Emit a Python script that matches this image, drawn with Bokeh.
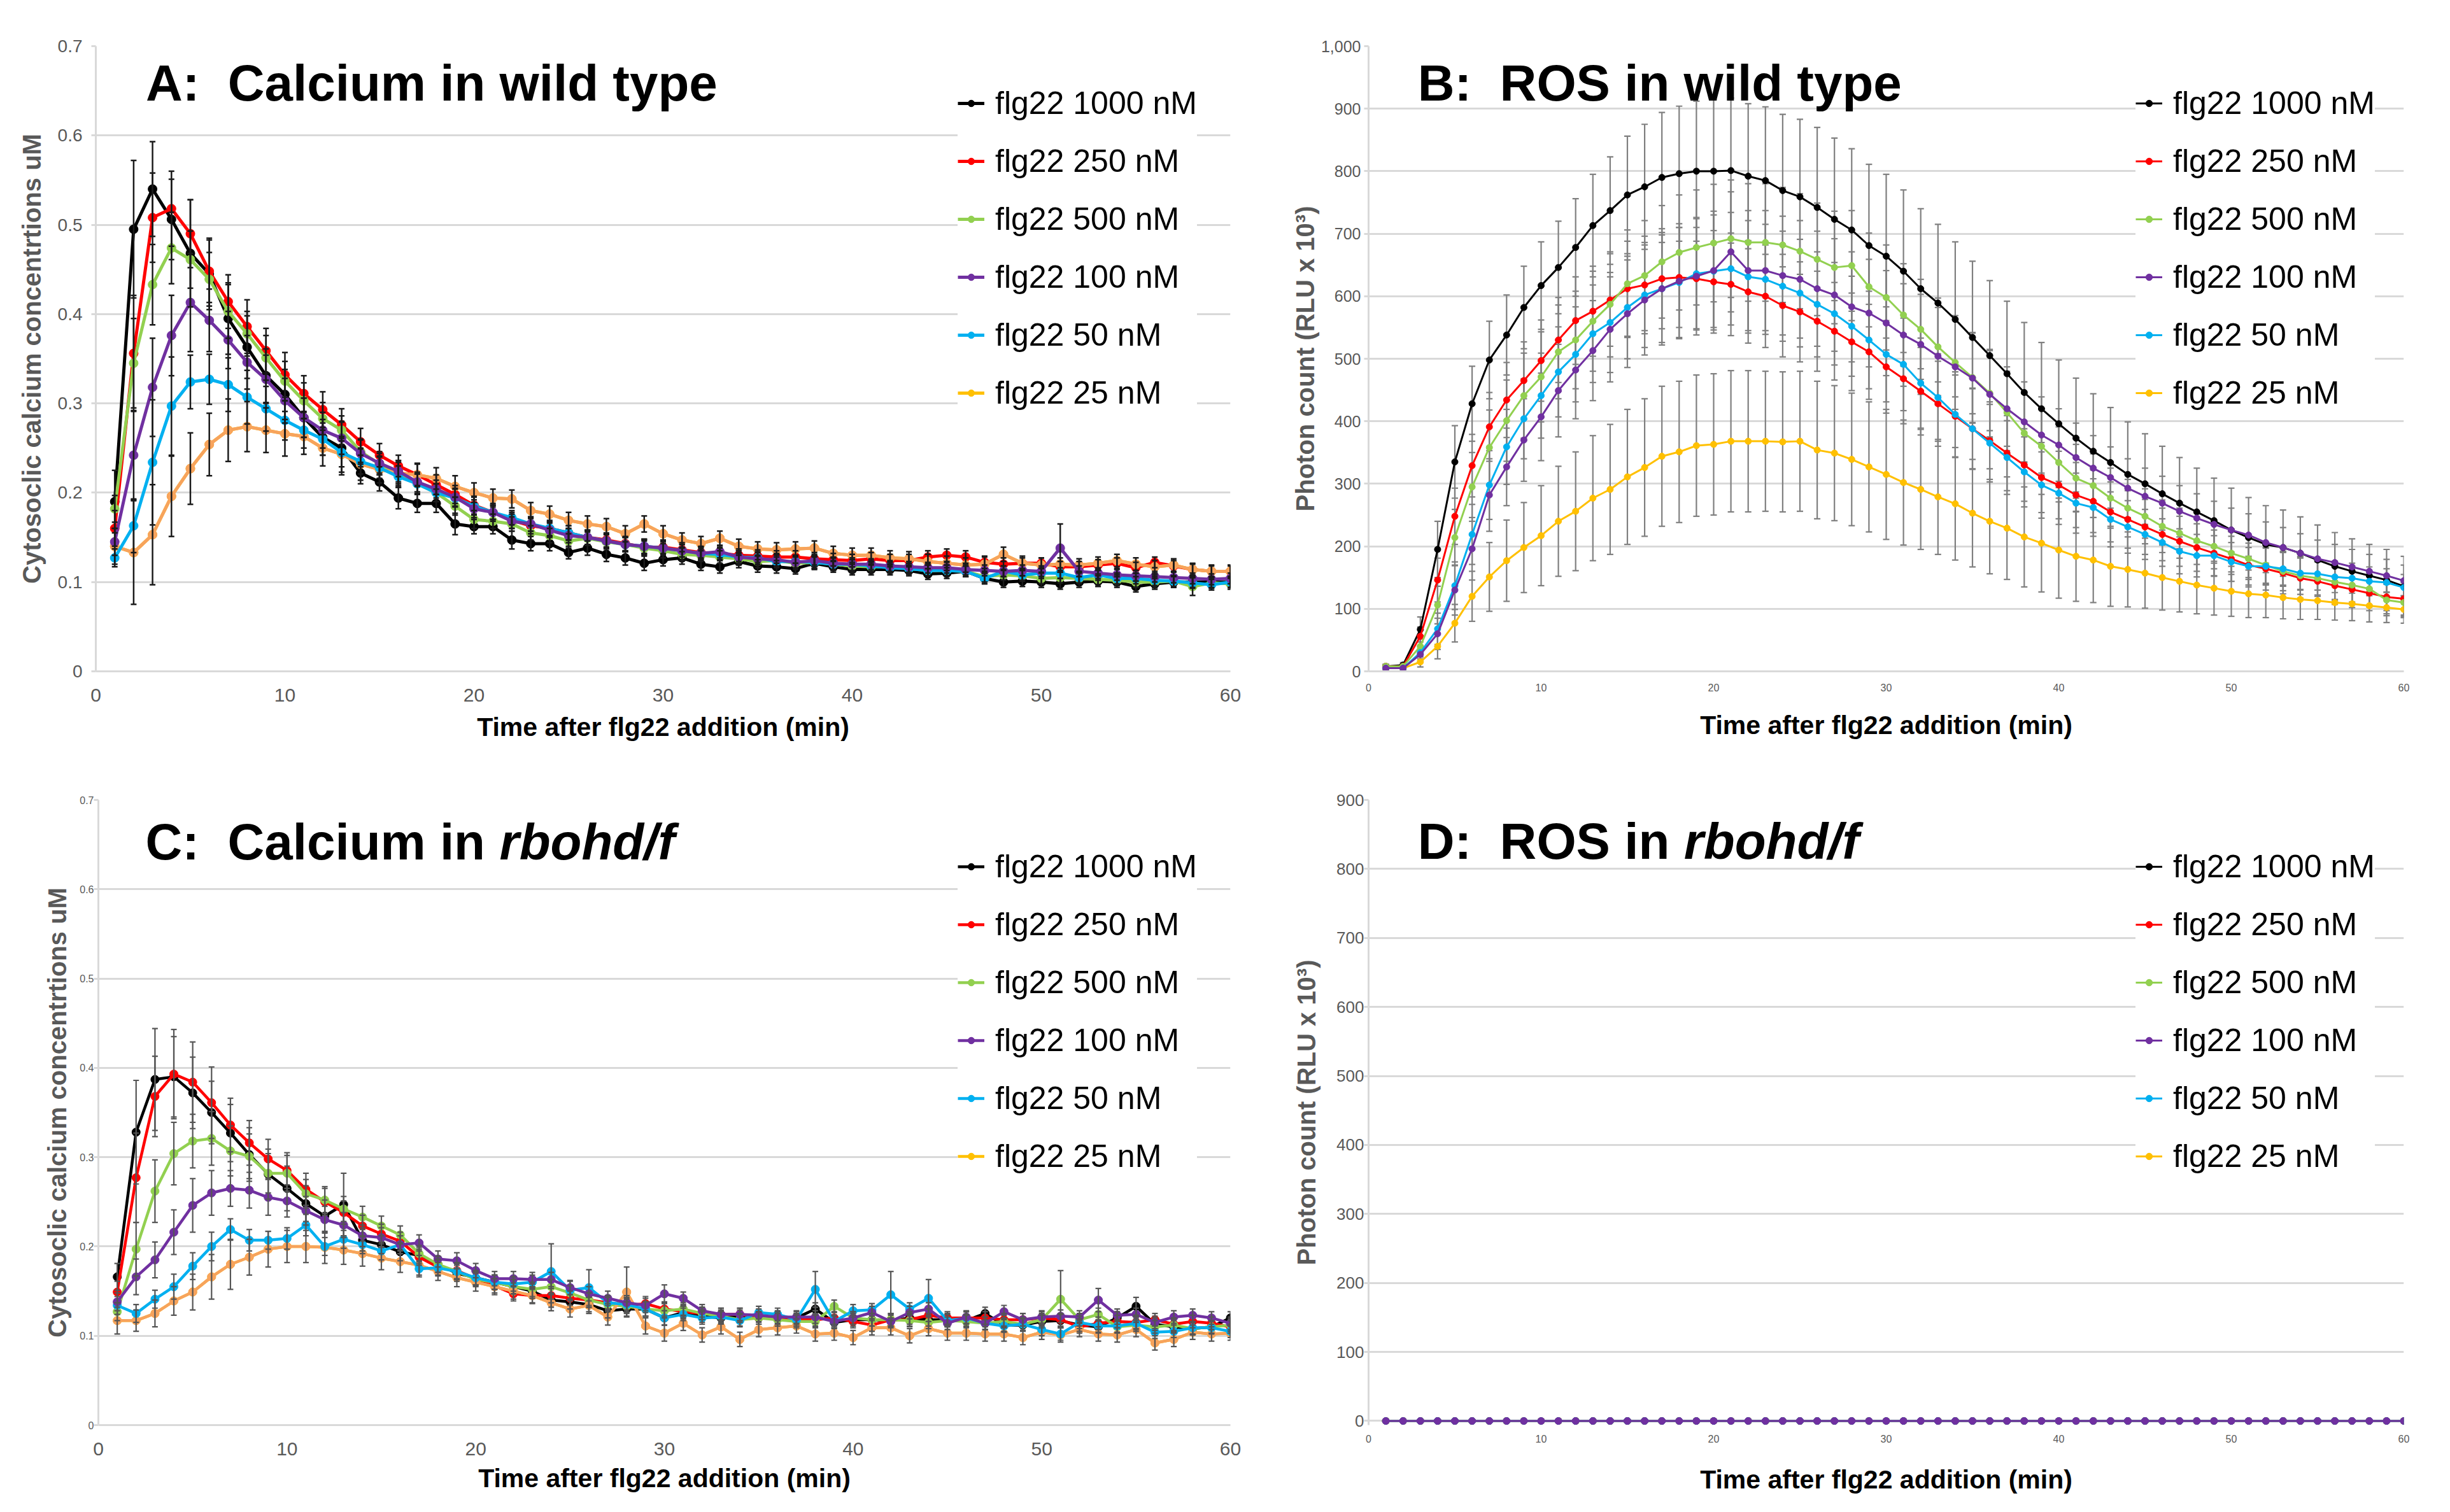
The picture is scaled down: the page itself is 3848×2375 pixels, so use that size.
import numpy as np
from bokeh.plotting import figure
from bokeh.models import (ColumnDataSource, Whisker, TeeHead, Legend, LegendItem, Label,
                          FixedTicker, NumeralTickFormatter, Range1d)
from bokeh.layouts import row, column
from bokeh.embed import file_html
from bokeh.resources import INLINE

# ---------------- data ----------------
MINUTES = list(range(1, 61))
X_TICKS = [0, 10, 20, 30, 40, 50, 60]
CA_TICKS = [0, 0.1, 0.2, 0.3, 0.4, 0.5, 0.6, 0.7]
ROS_WT_TICKS = [0, 100, 200, 300, 400, 500, 600, 700, 800, 900, 1000]
ROS_RB_TICKS = [0, 100, 200, 300, 400, 500, 600, 700, 800, 900]
SERIES_LABELS = ["flg22 1000 nM", "flg22 250 nM", "flg22 500 nM",
                 "flg22 100 nM", "flg22 50 nM", "flg22 25 nM"]

# Panel A: calcium, wild type (uM)
CA_WT_1000 = [0.19, 0.495, 0.54, 0.506, 0.468, 0.445, 0.395, 0.363, 0.331, 0.31,
              0.284, 0.262, 0.25, 0.222, 0.212, 0.194, 0.188, 0.188, 0.165, 0.162,
              0.162, 0.147, 0.143, 0.143, 0.133, 0.138, 0.131, 0.127, 0.121, 0.125,
              0.127, 0.12, 0.117, 0.123, 0.118, 0.117, 0.115, 0.121, 0.117, 0.114,
              0.114, 0.114, 0.113, 0.109, 0.11, 0.112, 0.104, 0.1, 0.101, 0.1,
              0.098, 0.1, 0.101, 0.1, 0.095, 0.098, 0.1, 0.1, 0.1, 0.1]
CA_WT_250 = [0.16, 0.356, 0.508, 0.518, 0.49, 0.448, 0.414, 0.386, 0.359, 0.332,
             0.311, 0.293, 0.276, 0.257, 0.242, 0.23, 0.22, 0.209, 0.198, 0.186,
             0.178, 0.169, 0.163, 0.16, 0.155, 0.15, 0.147, 0.143, 0.139, 0.139,
             0.136, 0.133, 0.132, 0.13, 0.129, 0.128, 0.128, 0.126, 0.125, 0.124,
             0.126, 0.124, 0.124, 0.128, 0.13, 0.128, 0.122, 0.12, 0.121, 0.121,
             0.117, 0.117, 0.119, 0.121, 0.116, 0.122, 0.118, 0.114, 0.112, 0.112]
CA_WT_500 = [0.182, 0.345, 0.433, 0.474, 0.461, 0.439, 0.403, 0.378, 0.351, 0.325,
             0.303, 0.283, 0.27, 0.246, 0.232, 0.222, 0.21, 0.2, 0.185, 0.17,
             0.168, 0.165, 0.155, 0.152, 0.146, 0.149, 0.145, 0.142, 0.138, 0.135,
             0.131, 0.13, 0.128, 0.126, 0.123, 0.124, 0.121, 0.122, 0.12, 0.118,
             0.117, 0.117, 0.115, 0.113, 0.113, 0.112, 0.106, 0.108, 0.107, 0.104,
             0.105, 0.104, 0.103, 0.102, 0.1, 0.1, 0.101, 0.095, 0.099, 0.098]
CA_WT_100 = [0.145, 0.242, 0.318, 0.376, 0.413, 0.393, 0.371, 0.346, 0.327, 0.303,
             0.284, 0.27, 0.261, 0.244, 0.233, 0.224, 0.212, 0.204, 0.195, 0.182,
             0.178, 0.168, 0.165, 0.158, 0.152, 0.15, 0.146, 0.142, 0.14, 0.138,
             0.135, 0.132, 0.134, 0.128, 0.126, 0.125, 0.122, 0.124, 0.121, 0.12,
             0.12, 0.118, 0.117, 0.116, 0.116, 0.114, 0.113, 0.112, 0.113, 0.112,
             0.138, 0.112, 0.11, 0.108, 0.107, 0.106, 0.105, 0.104, 0.103, 0.104]
CA_WT_50 = [0.127, 0.163, 0.234, 0.297, 0.324, 0.327, 0.321, 0.307, 0.294, 0.281,
            0.27, 0.26, 0.245, 0.235, 0.228, 0.218, 0.21, 0.2, 0.194, 0.185,
            0.178, 0.172, 0.165, 0.16, 0.155, 0.15, 0.146, 0.142, 0.14, 0.138,
            0.135, 0.132, 0.131, 0.128, 0.127, 0.123, 0.123, 0.122, 0.12, 0.12,
            0.118, 0.116, 0.115, 0.113, 0.113, 0.112, 0.104, 0.112, 0.108, 0.11,
            0.11, 0.105, 0.108, 0.104, 0.104, 0.102, 0.101, 0.099, 0.097, 0.1]
CA_WT_25 = [0.14, 0.133, 0.153, 0.196, 0.227, 0.254, 0.27, 0.274, 0.27, 0.266,
            0.263, 0.25, 0.243, 0.232, 0.226, 0.222, 0.22, 0.216, 0.207, 0.2,
            0.194, 0.193, 0.18, 0.176, 0.169, 0.165, 0.162, 0.154, 0.165, 0.154,
            0.147, 0.143, 0.149, 0.14, 0.137, 0.136, 0.137, 0.138, 0.132, 0.13,
            0.13, 0.127, 0.126, 0.123, 0.121, 0.119, 0.12, 0.131, 0.121, 0.119,
            0.12, 0.119, 0.121, 0.124, 0.12, 0.117, 0.119, 0.114, 0.112, 0.112]

CA_WT_1000_SD = [0.035, 0.077, 0.053, 0.045, 0.06, 0.04, 0.04, 0.035, 0.03, 0.028,
                 0.022, 0.02, 0.03, 0.012, 0.01, 0.012, 0.01, 0.01, 0.012, 0.008,
                 0.008, 0.01, 0.008, 0.008, 0.007, 0.008, 0.008, 0.008, 0.008, 0.007,
                 0.007, 0.007, 0.007, 0.007, 0.007, 0.007, 0.006, 0.007, 0.006, 0.006,
                 0.006, 0.006, 0.006, 0.006, 0.006, 0.006, 0.006, 0.006, 0.006, 0.006,
                 0.006, 0.006, 0.006, 0.006, 0.006, 0.006, 0.006, 0.006, 0.006, 0.006]
CA_WT_250_SD = [0.02, 0.065, 0.05, 0.042, 0.038, 0.035, 0.03, 0.03, 0.025, 0.025,
                0.02, 0.02, 0.018, 0.015, 0.013, 0.012, 0.012, 0.011, 0.01, 0.01,
                0.01, 0.009, 0.009, 0.009, 0.008, 0.008, 0.008, 0.008, 0.008, 0.008,
                0.008, 0.007, 0.007, 0.007, 0.007, 0.007, 0.007, 0.007, 0.007, 0.007,
                0.007, 0.007, 0.007, 0.007, 0.007, 0.007, 0.007, 0.007, 0.006, 0.006,
                0.006, 0.006, 0.006, 0.006, 0.006, 0.006, 0.006, 0.006, 0.006, 0.006]
CA_WT_500_SD = [0.015, 0.05, 0.045, 0.04, 0.032, 0.03, 0.03, 0.025, 0.025, 0.022,
                0.02, 0.018, 0.016, 0.014, 0.012, 0.012, 0.011, 0.01, 0.01, 0.01,
                0.008, 0.008, 0.008, 0.008, 0.008, 0.008, 0.008, 0.008, 0.008, 0.008,
                0.007, 0.007, 0.007, 0.007, 0.007, 0.007, 0.007, 0.007, 0.007, 0.007,
                0.006, 0.006, 0.006, 0.006, 0.006, 0.006, 0.006, 0.006, 0.006, 0.006,
                0.006, 0.006, 0.006, 0.006, 0.006, 0.006, 0.006, 0.01, 0.006, 0.006]
CA_WT_100_SD = [0.015, 0.05, 0.055, 0.045, 0.055, 0.035, 0.032, 0.03, 0.027, 0.025,
                0.022, 0.02, 0.018, 0.015, 0.013, 0.012, 0.011, 0.01, 0.01, 0.01,
                0.008, 0.008, 0.008, 0.008, 0.008, 0.008, 0.008, 0.008, 0.008, 0.008,
                0.007, 0.007, 0.007, 0.007, 0.007, 0.007, 0.007, 0.007, 0.007, 0.007,
                0.006, 0.006, 0.006, 0.006, 0.006, 0.006, 0.006, 0.006, 0.006, 0.006,
                0.027, 0.006, 0.006, 0.006, 0.006, 0.006, 0.006, 0.006, 0.006, 0.006]
CA_WT_50_SD = [0.01, 0.03, 0.07, 0.055, 0.03, 0.028, 0.03, 0.03, 0.025, 0.022,
               0.02, 0.018, 0.016, 0.014, 0.012, 0.012, 0.011, 0.01, 0.01, 0.01,
               0.008, 0.008, 0.008, 0.008, 0.008, 0.008, 0.008, 0.008, 0.008, 0.008,
               0.007, 0.007, 0.007, 0.007, 0.007, 0.007, 0.007, 0.007, 0.007, 0.007,
               0.006, 0.006, 0.006, 0.006, 0.006, 0.006, 0.006, 0.006, 0.006, 0.006,
               0.006, 0.006, 0.006, 0.006, 0.006, 0.006, 0.006, 0.006, 0.006, 0.006]
CA_WT_25_SD = [0.02, 0.058, 0.056, 0.045, 0.04, 0.035, 0.035, 0.028, 0.025, 0.025,
               0.02, 0.02, 0.02, 0.018, 0.015, 0.014, 0.013, 0.012, 0.012, 0.011,
               0.01, 0.01, 0.009, 0.009, 0.009, 0.009, 0.009, 0.009, 0.009, 0.009,
               0.008, 0.008, 0.008, 0.008, 0.008, 0.008, 0.008, 0.008, 0.008, 0.008,
               0.008, 0.008, 0.008, 0.008, 0.008, 0.008, 0.008, 0.008, 0.008, 0.008,
               0.007, 0.007, 0.007, 0.007, 0.007, 0.007, 0.007, 0.007, 0.007, 0.007]

# Panel B: ROS, wild type (RLU x 10^3)
ROS_WT_1000 = [8, 10, 67, 195, 335, 428, 498, 538, 582, 617,
               646, 678, 713, 737, 762, 775, 790, 796, 800, 800,
               801, 792, 785, 769, 759, 742, 723, 706, 681, 664,
               640, 612, 589, 563, 534, 505, 476, 446, 420, 396,
               373, 352, 334, 315, 300, 284, 269, 255, 241, 226,
               214, 203, 198, 189, 178, 168, 160, 153, 146, 136]
ROS_WT_250 = [8, 8, 56, 146, 248, 329, 391, 434, 465, 497,
              530, 561, 576, 594, 612, 618, 628, 630, 628, 623,
              619, 607, 600, 585, 575, 560, 544, 527, 511, 487,
              468, 448, 428, 408, 388, 369, 349, 330, 310, 298,
              282, 272, 255, 243, 231, 219, 208, 198, 189, 180,
              170, 164, 157, 149, 144, 137, 131, 125, 119, 116]
ROS_WT_500 = [8, 8, 40, 106, 214, 295, 358, 401, 441, 471,
              511, 530, 560, 587, 620, 633, 655, 670, 678, 685,
              692, 686, 686, 682, 672, 659, 646, 649, 615, 598,
              570, 547, 519, 494, 470, 445, 414, 381, 360, 334,
              309, 297, 277, 261, 248, 232, 221, 209, 200, 189,
              180, 170, 160, 153, 149, 143, 138, 132, 114, 110]
ROS_WT_100 = [5, 5, 27, 60, 130, 196, 282, 327, 370, 407,
              449, 482, 513, 547, 572, 594, 612, 624, 632, 641,
              671, 641, 641, 633, 627, 612, 602, 583, 573, 557,
              538, 523, 504, 487, 469, 443, 420, 399, 378, 362,
              342, 325, 310, 293, 280, 269, 256, 245, 235, 226,
              218, 206, 198, 189, 180, 174, 167, 160, 153, 145]
ROS_WT_50 = [5, 5, 30, 68, 137, 219, 298, 359, 404, 441,
             479, 507, 540, 558, 582, 602, 612, 622, 636, 640,
             644, 631, 627, 616, 605, 587, 572, 552, 530, 507,
             491, 461, 438, 411, 388, 365, 342, 319, 298, 285,
             269, 262, 243, 231, 219, 206, 192, 185, 185, 175,
             168, 168, 164, 157, 156, 151, 149, 144, 142, 134]
ROS_WT_25 = [5, 5, 15, 40, 77, 120, 151, 177, 198, 217,
             240, 256, 277, 291, 311, 326, 344, 351, 361, 363,
             368, 368, 368, 367, 368, 354, 349, 339, 327, 315,
             302, 291, 279, 268, 253, 240, 229, 215, 205, 194,
             184, 178, 168, 163, 157, 150, 144, 138, 133, 128,
             124, 122, 118, 115, 113, 110, 108, 105, 102, 99]

ROS_WT_1000_SD = [3, 4, 20, 45, 58, 60, 62, 64, 66, 70,
                  74, 78, 82, 86, 94, 100, 104, 108, 112, 114,
                  116, 116, 118, 122, 124, 128, 130, 130, 130, 131,
                  130, 128, 126, 124, 122, 120, 116, 112, 106, 102,
                  96, 92, 88, 84, 80, 76, 73, 70, 68, 67,
                  64, 62, 60, 58, 56, 54, 52, 50, 49, 48]
ROS_WT_250_SD = [3, 3, 15, 35, 45, 50, 55, 60, 62, 65,
                 68, 70, 72, 74, 76, 78, 80, 80, 82, 82,
                 82, 82, 82, 82, 80, 80, 78, 78, 76, 74,
                 72, 70, 68, 66, 64, 62, 60, 58, 56, 54,
                 52, 50, 48, 46, 44, 42, 40, 38, 37, 36,
                 35, 34, 33, 32, 31, 30, 29, 28, 27, 26]
ROS_WT_500_SD = [3, 3, 12, 30, 45, 55, 60, 65, 68, 72,
                 75, 78, 80, 84, 86, 88, 90, 92, 92, 94,
                 94, 94, 94, 92, 92, 90, 90, 88, 86, 84,
                 82, 80, 78, 75, 72, 70, 66, 63, 60, 57,
                 54, 51, 48, 46, 44, 42, 40, 38, 36, 34,
                 33, 32, 31, 30, 29, 28, 27, 26, 25, 24]
ROS_WT_100_SD = [3, 3, 10, 25, 40, 50, 58, 62, 66, 70,
                 74, 78, 80, 84, 86, 88, 90, 92, 94, 95,
                 96, 96, 96, 95, 94, 92, 90, 88, 86, 84,
                 82, 80, 78, 75, 72, 70, 67, 64, 61, 58,
                 55, 52, 49, 47, 45, 43, 41, 39, 37, 35,
                 34, 33, 32, 31, 30, 29, 28, 27, 26, 25]
ROS_WT_50_SD = [3, 3, 10, 25, 38, 48, 55, 60, 64, 68,
                72, 76, 78, 80, 82, 84, 86, 88, 88, 90,
                90, 90, 88, 88, 86, 84, 82, 80, 78, 76,
                74, 72, 70, 68, 65, 62, 59, 56, 53, 50,
                48, 46, 44, 42, 40, 38, 36, 34, 32, 31,
                30, 29, 28, 27, 26, 25, 24, 23, 22, 21]
ROS_WT_25_SD = [2, 2, 8, 20, 30, 40, 55, 65, 72, 80,
                88, 95, 100, 104, 108, 110, 112, 113, 113, 113,
                113, 113, 112, 112, 112, 110, 108, 106, 104, 104,
                100, 96, 92, 90, 86, 84, 82, 80, 78, 77,
                72, 68, 64, 60, 56, 52, 49, 46, 43, 40,
                38, 36, 34, 32, 30, 28, 27, 26, 24, 22]

# Panel C: calcium, rbohd/f (uM)
CA_RB_1000 = [0.166, 0.328, 0.387, 0.39, 0.372, 0.35, 0.327, 0.303, 0.281, 0.265,
              0.248, 0.234, 0.247, 0.207, 0.202, 0.194, 0.19, 0.18, 0.17, 0.165,
              0.16, 0.155, 0.15, 0.14, 0.138, 0.135, 0.128, 0.13, 0.13, 0.12,
              0.126, 0.122, 0.12, 0.122, 0.12, 0.12, 0.12, 0.13, 0.115, 0.118,
              0.118, 0.117, 0.12, 0.118, 0.118, 0.117, 0.125, 0.112, 0.112, 0.116,
              0.117, 0.112, 0.11, 0.12, 0.133, 0.113, 0.11, 0.108, 0.11, 0.12]
CA_RB_250 = [0.149, 0.277, 0.368, 0.393, 0.384, 0.361, 0.336, 0.316, 0.298, 0.285,
             0.264, 0.25, 0.238, 0.223, 0.214, 0.206, 0.188, 0.177, 0.173, 0.164,
             0.156, 0.147, 0.145, 0.145, 0.142, 0.14, 0.137, 0.134, 0.136, 0.13,
             0.127, 0.125, 0.124, 0.124, 0.12, 0.12, 0.118, 0.118, 0.12, 0.116,
             0.112, 0.118, 0.118, 0.123, 0.12, 0.12, 0.12, 0.118, 0.118, 0.12,
             0.118, 0.11, 0.114, 0.116, 0.115, 0.118, 0.113, 0.116, 0.114, 0.11]
CA_RB_500 = [0.127, 0.197, 0.262, 0.304, 0.318, 0.321, 0.307, 0.301, 0.282, 0.282,
             0.259, 0.252, 0.242, 0.233, 0.223, 0.213, 0.192, 0.18, 0.172, 0.163,
             0.16, 0.155, 0.152, 0.155, 0.148, 0.14, 0.135, 0.133, 0.13, 0.128,
             0.13, 0.125, 0.122, 0.118, 0.12, 0.118, 0.116, 0.116, 0.133, 0.12,
             0.118, 0.118, 0.117, 0.115, 0.117, 0.116, 0.114, 0.116, 0.113, 0.118,
             0.141, 0.118, 0.124, 0.11, 0.112, 0.11, 0.112, 0.108, 0.11, 0.112]
CA_RB_100 = [0.138, 0.166, 0.185, 0.216, 0.246, 0.26, 0.265, 0.263, 0.255, 0.251,
             0.24, 0.23, 0.224, 0.212, 0.21, 0.202, 0.204, 0.186, 0.184, 0.173,
             0.164, 0.164, 0.163, 0.163, 0.154, 0.147, 0.142, 0.137, 0.134, 0.147,
             0.142, 0.128, 0.124, 0.124, 0.123, 0.121, 0.121, 0.121, 0.116, 0.12,
             0.126, 0.116, 0.126, 0.13, 0.114, 0.121, 0.114, 0.127, 0.118, 0.121,
             0.122, 0.121, 0.14, 0.123, 0.124, 0.115, 0.121, 0.123, 0.12, 0.114]
CA_RB_50 = [0.134, 0.125, 0.141, 0.155, 0.178, 0.2, 0.219, 0.207, 0.207, 0.209,
            0.224, 0.2, 0.208, 0.202, 0.195, 0.202, 0.175, 0.176, 0.172, 0.165,
            0.16, 0.158, 0.16, 0.172, 0.151, 0.154, 0.137, 0.135, 0.13, 0.12,
            0.124, 0.12, 0.121, 0.117, 0.126, 0.124, 0.118, 0.152, 0.116, 0.128,
            0.129, 0.146, 0.13, 0.142, 0.117, 0.12, 0.114, 0.111, 0.113, 0.107,
            0.102, 0.115, 0.111, 0.111, 0.114, 0.104, 0.105, 0.109, 0.109, 0.105]
CA_RB_25 = [0.117, 0.117, 0.125, 0.139, 0.149, 0.166, 0.18, 0.188, 0.197, 0.2,
            0.2, 0.199, 0.196, 0.192, 0.187, 0.183, 0.179, 0.172, 0.165, 0.16,
            0.155, 0.15, 0.145, 0.137, 0.13, 0.134, 0.121, 0.149, 0.111, 0.103,
            0.114, 0.101, 0.11, 0.096, 0.107, 0.109, 0.111, 0.102, 0.103, 0.098,
            0.109, 0.109, 0.1, 0.108, 0.103, 0.103, 0.102, 0.102, 0.098, 0.104,
            0.101, 0.107, 0.102, 0.101, 0.107, 0.092, 0.096, 0.104, 0.102, 0.103]

CA_RB_1000_SD = [0.015, 0.058, 0.057, 0.045, 0.04, 0.035, 0.032, 0.03, 0.028, 0.025,
                 0.02, 0.018, 0.035, 0.012, 0.01, 0.01, 0.009, 0.009, 0.009, 0.008,
                 0.008, 0.008, 0.008, 0.008, 0.008, 0.008, 0.008, 0.008, 0.008, 0.008,
                 0.007, 0.007, 0.007, 0.007, 0.007, 0.007, 0.007, 0.007, 0.007, 0.007,
                 0.007, 0.007, 0.007, 0.007, 0.007, 0.007, 0.007, 0.007, 0.007, 0.007,
                 0.007, 0.007, 0.007, 0.007, 0.01, 0.007, 0.007, 0.007, 0.007, 0.007]
CA_RB_250_SD = [0.012, 0.05, 0.045, 0.05, 0.045, 0.04, 0.03, 0.025, 0.022, 0.02,
                0.018, 0.015, 0.013, 0.012, 0.011, 0.01, 0.009, 0.009, 0.009, 0.008,
                0.008, 0.008, 0.008, 0.008, 0.008, 0.008, 0.008, 0.008, 0.008, 0.008,
                0.007, 0.007, 0.007, 0.007, 0.007, 0.007, 0.007, 0.007, 0.007, 0.007,
                0.007, 0.007, 0.007, 0.007, 0.007, 0.007, 0.007, 0.007, 0.007, 0.007,
                0.007, 0.007, 0.007, 0.007, 0.007, 0.007, 0.007, 0.007, 0.007, 0.007]
CA_RB_500_SD = [0.01, 0.03, 0.035, 0.035, 0.03, 0.03, 0.028, 0.025, 0.022, 0.02,
                0.016, 0.015, 0.014, 0.012, 0.011, 0.01, 0.009, 0.009, 0.009, 0.008,
                0.008, 0.008, 0.008, 0.008, 0.008, 0.008, 0.008, 0.008, 0.008, 0.008,
                0.007, 0.007, 0.007, 0.007, 0.007, 0.007, 0.007, 0.007, 0.007, 0.007,
                0.007, 0.007, 0.007, 0.007, 0.007, 0.007, 0.007, 0.007, 0.007, 0.007,
                0.032, 0.007, 0.007, 0.007, 0.007, 0.007, 0.007, 0.007, 0.007, 0.007]
CA_RB_100_SD = [0.01, 0.02, 0.02, 0.025, 0.03, 0.025, 0.02, 0.02, 0.02, 0.018,
                0.016, 0.015, 0.014, 0.012, 0.011, 0.01, 0.009, 0.009, 0.009, 0.008,
                0.008, 0.008, 0.008, 0.008, 0.008, 0.008, 0.008, 0.008, 0.008, 0.01,
                0.007, 0.007, 0.007, 0.007, 0.007, 0.007, 0.007, 0.007, 0.007, 0.007,
                0.007, 0.007, 0.007, 0.007, 0.007, 0.007, 0.007, 0.007, 0.007, 0.007,
                0.007, 0.007, 0.013, 0.007, 0.007, 0.007, 0.007, 0.007, 0.007, 0.007]
CA_RB_50_SD = [0.01, 0.01, 0.01, 0.014, 0.015, 0.016, 0.012, 0.012, 0.01, 0.012,
               0.012, 0.01, 0.01, 0.01, 0.01, 0.01, 0.009, 0.009, 0.009, 0.008,
               0.008, 0.008, 0.008, 0.031, 0.01, 0.02, 0.008, 0.008, 0.008, 0.008,
               0.007, 0.007, 0.007, 0.007, 0.007, 0.007, 0.007, 0.02, 0.007, 0.007,
               0.007, 0.026, 0.007, 0.021, 0.007, 0.007, 0.007, 0.007, 0.007, 0.007,
               0.007, 0.007, 0.007, 0.007, 0.007, 0.007, 0.007, 0.007, 0.007, 0.007]
CA_RB_25_SD = [0.015, 0.012, 0.015, 0.016, 0.02, 0.025, 0.028, 0.02, 0.02, 0.018,
               0.018, 0.018, 0.016, 0.014, 0.013, 0.012, 0.011, 0.01, 0.01, 0.01,
               0.009, 0.009, 0.009, 0.009, 0.009, 0.009, 0.009, 0.028, 0.009, 0.009,
               0.008, 0.008, 0.008, 0.008, 0.008, 0.008, 0.008, 0.008, 0.008, 0.008,
               0.008, 0.008, 0.008, 0.008, 0.008, 0.008, 0.008, 0.008, 0.008, 0.008,
               0.008, 0.008, 0.008, 0.008, 0.008, 0.008, 0.008, 0.008, 0.008, 0.008]

# Panel D: ROS, rbohd/f (all series flat at zero)
ROS_RB_ALL = [0, 0, 0, 0, 0, 0, 0, 0, 0, 0,
              0, 0, 0, 0, 0, 0, 0, 0, 0, 0,
              0, 0, 0, 0, 0, 0, 0, 0, 0, 0,
              0, 0, 0, 0, 0, 0, 0, 0, 0, 0,
              0, 0, 0, 0, 0, 0, 0, 0, 0, 0,
              0, 0, 0, 0, 0, 0, 0, 0, 0, 0]

# ---------------- styling ----------------
FONT = "Liberation Sans"
GRID = "#D9D9D9"
TICK_TXT = "#595959"
COL_CA = ["#000000", "#FF0000", "#92D050", "#7030A0", "#00B0F0", "#F7A35C"]
COL_ROS = ["#000000", "#FF0000", "#92D050", "#7030A0", "#00B0F0", "#FFC000"]
COL_LEG = ["#000000", "#FF0000", "#92D050", "#7030A0", "#00B0F0", "#FFC000"]
DRAW_ORDER = [0, 1, 2, 5, 4, 3]


def build(width, height, bl, br, bt, bb, y_start, y_end, y_ticks, y_fmt, y_title,
          ytick_font, ytick_standoff, ytitle_standoff,
          xtick_font, xtick_standoff, xtitle_standoff, x_axis_line,
          means, sds, line_colors, lw, ms, err_color, err_w, cap, err_level,
          title_main, title_italic, italic_dx, title_x, title_y, legend_xy):
    p = figure(width=width, height=height, x_range=Range1d(0, 60), y_range=Range1d(y_start, y_end),
               output_backend="svg", toolbar_location=None,
               min_border_left=bl, min_border_right=br, min_border_top=bt, min_border_bottom=bb)
    p.outline_line_color = None
    p.background_fill_color = "white"
    p.border_fill_color = "white"
    p.xgrid.visible = False
    p.ygrid.grid_line_color = GRID
    p.ygrid.grid_line_width = 3

    p.xaxis.ticker = FixedTicker(ticks=X_TICKS)
    p.yaxis.ticker = FixedTicker(ticks=y_ticks)
    p.yaxis.formatter = NumeralTickFormatter(format=y_fmt)
    for ax in (p.xaxis[0], p.yaxis[0]):
        ax.axis_line_color = GRID
        ax.axis_line_width = 3
        ax.minor_tick_line_color = None
        ax.major_label_text_color = TICK_TXT
        ax.major_label_text_font = FONT
        ax.axis_label_text_font = FONT
        ax.axis_label_text_font_style = "bold"
    if not x_axis_line:
        p.xaxis.axis_line_color = None
    p.xaxis.major_tick_line_color = None
    p.xaxis.major_tick_out = 0
    p.xaxis.major_tick_in = 0
    p.yaxis.major_tick_line_color = GRID
    p.yaxis.major_tick_line_width = 3
    p.yaxis.major_tick_out = 7
    p.yaxis.major_tick_in = 0
    p.yaxis.major_label_text_font_size = ytick_font
    p.xaxis.major_label_text_font_size = xtick_font
    p.yaxis.major_label_standoff = ytick_standoff
    p.xaxis.major_label_standoff = xtick_standoff
    p.xaxis.axis_label = "Time after flg22 addition (min)"
    p.xaxis.axis_label_text_font_size = "41px"
    p.xaxis.axis_label_text_color = "#000000"
    p.xaxis.axis_label_standoff = xtitle_standoff
    p.yaxis.axis_label = y_title
    p.yaxis.axis_label_text_font_size = "40px"
    p.yaxis.axis_label_text_color = TICK_TXT
    p.yaxis.axis_label_standoff = ytitle_standoff

    legend_renderers = {}
    for i in DRAW_ORDER:
        m = np.array(means[i], dtype=float)
        src = ColumnDataSource(dict(x=MINUTES, y=m))
        if sds is not None:
            s = np.array(sds[i], dtype=float)
            esrc = ColumnDataSource(dict(x=MINUTES, lower=m - s, upper=m + s))
            w = Whisker(source=esrc, base="x", lower="lower", upper="upper",
                        line_color=err_color, line_width=err_w, level=err_level,
                        upper_head=TeeHead(size=cap, line_color=err_color, line_width=err_w),
                        lower_head=TeeHead(size=cap, line_color=err_color, line_width=err_w))
            p.add_layout(w)
        if line_colors[i] != COL_LEG[i]:
            # legend colour differs from the plotted line colour: the legend-coloured
            # copy sits exactly underneath the visible series
            gl = p.line("x", "y", source=src, line_color=COL_LEG[i], line_width=lw)
            gs = p.scatter("x", "y", source=src, marker="circle", size=ms,
                           fill_color=COL_LEG[i], line_color=COL_LEG[i])
            legend_renderers[i] = [gl, gs]
        rl = p.line("x", "y", source=src, line_color=line_colors[i], line_width=lw)
        rs = p.scatter("x", "y", source=src, marker="circle", size=ms,
                       fill_color=line_colors[i], line_color=line_colors[i])
        legend_renderers.setdefault(i, [rl, rs])

    items = [LegendItem(label=SERIES_LABELS[i], renderers=legend_renderers[i]) for i in range(6)]
    leg = Legend(items=items, location=legend_xy, orientation="vertical",
                 label_text_font=FONT, label_text_font_size="50px", label_text_color="#000000",
                 glyph_width=42, glyph_height=26, label_height=58, label_standoff=17,
                 spacing=33, padding=10, margin=0,
                 border_line_color=None, background_fill_color="white", background_fill_alpha=1.0)
    p.add_layout(leg)

    p.add_layout(Label(x=title_x, y=title_y, text=title_main, text_font=FONT,
                       text_font_size="80px", text_font_style="bold", text_color="#000000",
                       text_baseline="alphabetic"))
    if title_italic:
        p.add_layout(Label(x=title_x, y=title_y, x_offset=italic_dx, text=title_italic,
                           text_font=FONT, text_font_size="80px", text_font_style="bold italic",
                           text_color="#000000", text_baseline="alphabetic"))
    return p


CA_Y_TITLE = "Cytosoclic calcium concentrtions uM"
ROS_Y_TITLE = "Photon count (RLU x 10\u00b3)"

pA = build(2010, 1178, 150, 78, 72, 124, 0, 0.7, CA_TICKS, "0.[0]", CA_Y_TITLE,
           "28px", 14, 16, "30px", 27, 14, True,
           [CA_WT_1000, CA_WT_250, CA_WT_500, CA_WT_100, CA_WT_50, CA_WT_25],
           [CA_WT_1000_SD, CA_WT_250_SD, CA_WT_500_SD, CA_WT_100_SD, CA_WT_50_SD, CA_WT_25_SD],
           COL_CA, 5, 14, "#1a1a1a", 2.5, 9, "annotation",
           "A:\u00a0 Calcium in wild type", None, 0, 2.64, 0.659, (1354, 408))

pB = build(1805, 1178, 139, 40, 72, 124, 0, 1000, ROS_WT_TICKS, "0,0", ROS_Y_TITLE,
           "25px", 5, 0, "16px", 19, 27, True,
           [ROS_WT_1000, ROS_WT_250, ROS_WT_500, ROS_WT_100, ROS_WT_50, ROS_WT_25],
           [ROS_WT_1000_SD, ROS_WT_250_SD, ROS_WT_500_SD, ROS_WT_100_SD, ROS_WT_50_SD, ROS_WT_25_SD],
           COL_ROS, 3, 10, "#7F7F7F", 2.2, 10, "underlay",
           "B:\u00a0 ROS in wild type", None, 0, 2.85, 941, (1205, 408))

pC = build(2010, 1180, 154, 78, 78, 120, 0, 0.7, CA_TICKS, "0.[0]", CA_Y_TITLE,
           "16px", 0, 10, "30px", 27, 10, True,
           [CA_RB_1000, CA_RB_250, CA_RB_500, CA_RB_100, CA_RB_50, CA_RB_25],
           [CA_RB_1000_SD, CA_RB_250_SD, CA_RB_500_SD, CA_RB_100_SD, CA_RB_50_SD, CA_RB_25_SD],
           COL_CA, 4.5, 13, "#555555", 2.2, 9, "annotation",
           "C:\u00a0 Calcium in ", "rbohd/f", 556, 2.5, 0.653, (1350, 393))

pD = build(1805, 1180, 139, 40, 78, 120, -6, 900, ROS_RB_TICKS, "0,0", ROS_Y_TITLE,
           "26px", 0, 22, "16px", 15, 32, False,
           [ROS_RB_ALL, ROS_RB_ALL, ROS_RB_ALL, ROS_RB_ALL, ROS_RB_ALL, ROS_RB_ALL],
           None,
           COL_ROS, 3, 11, "#7F7F7F", 2, 10, "underlay",
           "D:\u00a0 ROS in ", "rbohd/f", 418, 2.85, 840, (1205, 393))

layout = column(row(pA, pB), row(pC, pD))
open("out.html", "w").write(file_html(layout, INLINE))
